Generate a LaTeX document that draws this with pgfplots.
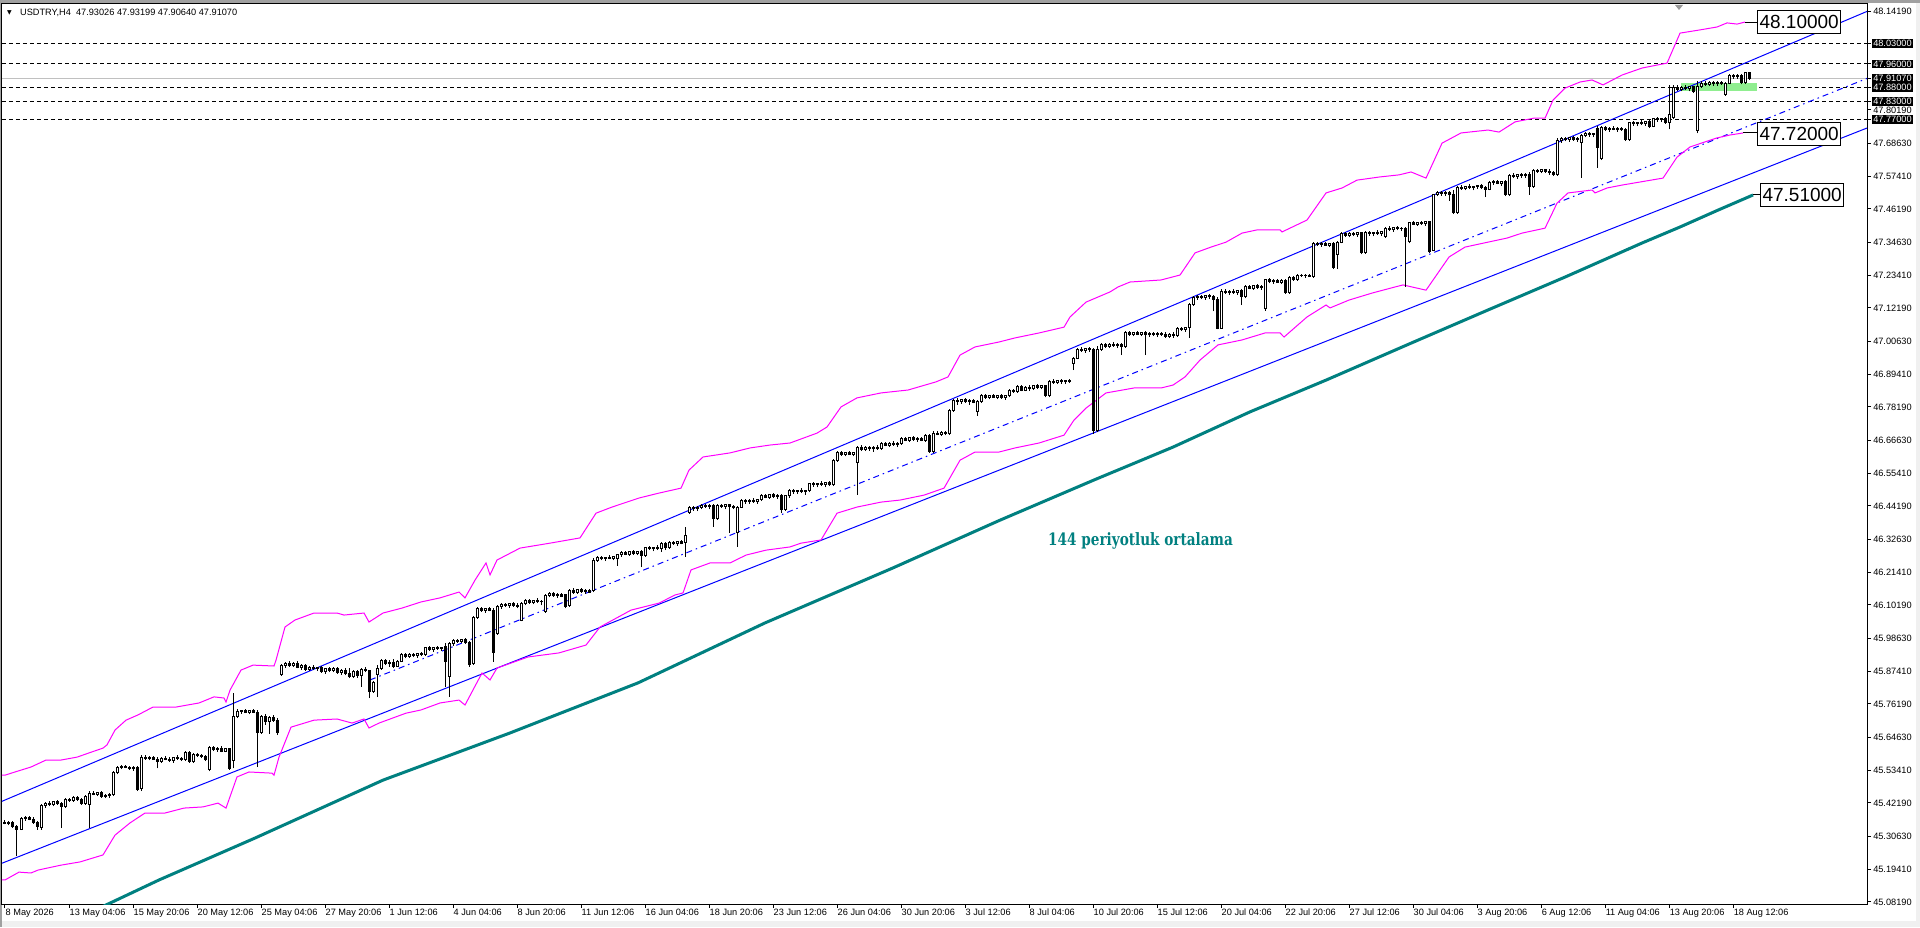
\documentclass[border=0pt]{standalone}
\usepackage{fontspec}
\setmainfont{Liberation Sans}
\newfontfamily\slab{DejaVu Serif}
\newfontfamily\djv{DejaVu Sans}
\usepackage{pgfplots}
\usepackage{pgfplotstable}
\pgfplotsset{compat=1.18}
\definecolor{mtblue}{RGB}{0,0,255}
\definecolor{mtmag}{RGB}{255,0,255}
\definecolor{mtteal}{RGB}{0,128,128}
\definecolor{mtgreen}{RGB}{144,238,144}
\definecolor{mtgray}{RGB}{192,192,192}
\definecolor{mtframe}{RGB}{160,160,160}
\definecolor{mtpanel}{RGB}{240,240,240}

\pgfplotstableread{
i o h l c
0 45.355 45.362 45.348 45.352
1 45.352 45.358 45.345 45.356
2 45.356 45.360 45.335 45.340
3 45.340 45.345 45.240 45.330
4 45.330 45.372 45.328 45.368
5 45.368 45.378 45.360 45.372
6 45.372 45.376 45.362 45.366
7 45.366 45.372 45.350 45.354
8 45.354 45.360 45.330 45.340
9 45.336 45.418 45.330 45.412
10 45.412 45.425 45.405 45.420
11 45.420 45.428 45.410 45.415
12 45.415 45.430 45.410 45.426
13 45.426 45.432 45.415 45.420
14 45.420 45.425 45.335 45.410
15 45.410 45.440 45.405 45.435
16 45.435 45.440 45.425 45.430
17 45.430 45.445 45.425 45.440
18 45.440 45.445 45.430 45.435
19 45.435 45.440 45.415 45.420
20 45.420 45.450 45.415 45.445
21 45.415 45.462 45.335 45.455
22 45.455 45.462 45.448 45.452
23 45.452 45.460 45.445 45.456
24 45.456 45.462 45.440 45.444
25 45.444 45.452 45.438 45.448
26 45.448 45.456 45.440 45.450
27 45.450 45.530 45.445 45.525
28 45.525 45.550 45.520 45.545
29 45.545 45.552 45.538 45.548
30 45.548 45.552 45.540 45.544
31 45.544 45.550 45.535 45.540
32 45.540 45.548 45.532 45.545
33 45.545 45.550 45.462 45.468
34 45.470 45.585 45.462 45.578
35 45.578 45.585 45.570 45.575
36 45.575 45.582 45.568 45.578
37 45.578 45.584 45.570 45.572
38 45.572 45.580 45.540 45.565
39 45.565 45.578 45.560 45.575
40 45.575 45.582 45.568 45.570
41 45.570 45.578 45.562 45.566
42 45.566 45.580 45.560 45.578
43 45.578 45.585 45.570 45.574
44 45.574 45.580 45.565 45.570
45 45.570 45.600 45.565 45.595
46 45.595 45.600 45.560 45.565
47 45.565 45.592 45.560 45.588
48 45.588 45.594 45.580 45.584
49 45.584 45.590 45.575 45.580
50 45.580 45.585 45.565 45.570
51 45.535 45.618 45.530 45.612
52 45.612 45.618 45.600 45.605
53 45.605 45.615 45.598 45.610
54 45.610 45.616 45.595 45.600
55 45.600 45.612 45.595 45.608
56 45.608 45.612 45.535 45.540
57 45.569 45.800 45.540 45.717
58 45.717 45.745 45.712 45.735
59 45.735 45.742 45.728 45.738
60 45.738 45.745 45.730 45.734
61 45.734 45.742 45.726 45.738
62 45.738 45.744 45.730 45.732
63 45.732 45.740 45.545 45.665
64 45.665 45.725 45.660 45.720
65 45.720 45.728 45.690 45.700
66 45.700 45.720 45.660 45.715
67 45.715 45.722 45.700 45.705
68 45.705 45.715 45.655 45.665
69 45.862 45.900 45.858 45.895
70 45.895 45.905 45.885 45.900
71 45.900 45.908 45.890 45.895
72 45.895 45.905 45.888 45.902
73 45.902 45.908 45.884 45.888
74 45.888 45.898 45.880 45.894
75 45.894 45.900 45.875 45.880
76 45.880 45.892 45.876 45.888
77 45.888 45.895 45.878 45.882
78 45.882 45.890 45.874 45.886
79 45.886 45.892 45.868 45.872
80 45.872 45.886 45.866 45.884
81 45.884 45.890 45.870 45.876
82 45.876 45.888 45.870 45.885
83 45.885 45.890 45.865 45.870
84 45.870 45.882 45.862 45.878
85 45.878 45.884 45.860 45.865
86 45.865 45.885 45.850 45.855
87 45.855 45.878 45.850 45.874
88 45.874 45.880 45.850 45.858
89 45.858 45.885 45.820 45.880
90 45.880 45.888 45.870 45.875
91 45.875 45.880 45.782 45.805
92 45.805 45.840 45.800 45.835
93 45.862 45.895 45.785 45.885
94 45.885 45.915 45.880 45.910
95 45.910 45.916 45.895 45.900
96 45.900 45.912 45.890 45.905
97 45.905 45.915 45.885 45.892
98 45.892 45.912 45.888 45.908
99 45.908 45.935 45.905 45.930
100 45.930 45.936 45.918 45.925
101 45.925 45.935 45.920 45.932
102 45.932 45.938 45.922 45.928
103 45.928 45.936 45.920 45.934
104 45.934 45.940 45.925 45.930
105 45.930 45.958 45.926 45.954
106 45.954 45.960 45.945 45.950
107 45.950 45.958 45.940 45.956
108 45.956 45.962 45.948 45.952
109 45.952 45.958 45.944 45.955
110 45.958 45.972 45.820 45.906
111 45.856 45.976 45.786 45.970
112 45.970 45.985 45.962 45.980
113 45.980 45.986 45.972 45.976
114 45.976 45.984 45.970 45.982
115 45.982 45.988 45.968 45.972
116 45.972 45.978 45.890 45.896
117 45.900 46.065 45.895 46.058
118 46.058 46.094 46.055 46.088
119 46.088 46.094 46.078 46.082
120 46.082 46.092 46.075 46.088
121 46.088 46.094 46.080 46.084
122 46.084 46.090 45.906 45.937
123 46.005 46.100 46.000 46.095
124 46.095 46.110 46.088 46.104
125 46.104 46.110 46.095 46.100
126 46.100 46.108 46.092 46.106
127 46.106 46.112 46.096 46.100
128 46.100 46.108 46.090 46.096
129 46.050 46.112 46.045 46.108
130 46.108 46.122 46.100 46.116
131 46.116 46.122 46.105 46.110
132 46.110 46.120 46.104 46.118
133 46.118 46.124 46.108 46.112
134 46.112 46.120 46.100 46.115
135 46.080 46.140 46.075 46.135
136 46.135 46.145 46.128 46.140
137 46.140 46.146 46.130 46.134
138 46.134 46.142 46.126 46.138
139 46.138 46.144 46.128 46.132
140 46.136 46.140 46.090 46.098
141 46.100 46.158 46.095 46.152
142 46.152 46.160 46.140 46.146
143 46.146 46.156 46.140 46.154
144 46.154 46.160 46.142 46.148
145 46.148 46.156 46.140 46.150
146 46.150 46.157 46.142 46.146
147 46.150 46.262 46.145 46.256
148 46.256 46.270 46.250 46.264
149 46.264 46.270 46.255 46.260
150 46.260 46.268 46.252 46.266
151 46.266 46.272 46.258 46.262
152 46.262 46.270 46.255 46.267
153 46.262 46.278 46.236 46.274
154 46.274 46.286 46.268 46.282
155 46.282 46.288 46.272 46.276
156 46.276 46.286 46.270 46.284
157 46.284 46.290 46.275 46.280
158 46.280 46.288 46.272 46.285
159 46.285 46.290 46.232 46.270
160 46.270 46.302 46.268 46.298
161 46.298 46.304 46.290 46.294
162 46.294 46.302 46.286 46.300
163 46.300 46.306 46.290 46.296
164 46.296 46.318 46.285 46.312
165 46.312 46.318 46.290 46.298
166 46.298 46.320 46.295 46.316
167 46.316 46.322 46.308 46.312
168 46.312 46.320 46.305 46.318
169 46.318 46.324 46.310 46.314
170 46.315 46.370 46.268 46.342
171 46.420 46.442 46.415 46.436
172 46.436 46.442 46.426 46.432
173 46.432 46.440 46.424 46.438
174 46.438 46.448 46.430 46.444
175 46.444 46.450 46.434 46.440
176 46.440 46.448 46.430 46.442
177 46.442 46.448 46.370 46.400
178 46.400 46.448 46.395 46.444
179 46.444 46.450 46.436 46.440
180 46.440 46.448 46.430 46.446
181 46.446 46.450 46.350 46.440
182 46.440 46.446 46.430 46.436
183 46.350 46.442 46.301 46.438
184 46.438 46.465 46.435 46.460
185 46.460 46.466 46.450 46.456
186 46.456 46.464 46.448 46.462
187 46.462 46.468 46.452 46.458
188 46.458 46.466 46.450 46.464
189 46.464 46.482 46.458 46.478
190 46.478 46.484 46.468 46.472
191 46.472 46.482 46.466 46.480
192 46.480 46.486 46.470 46.474
193 46.474 46.482 46.466 46.478
194 46.478 46.484 46.417 46.430
195 46.430 46.480 46.425 46.476
196 46.476 46.500 46.470 46.494
197 46.494 46.500 46.484 46.490
198 46.490 46.498 46.482 46.496
199 46.496 46.502 46.486 46.490
200 46.490 46.498 46.480 46.494
201 46.494 46.522 46.488 46.518
202 46.518 46.524 46.508 46.514
203 46.514 46.522 46.506 46.520
204 46.520 46.526 46.510 46.516
205 46.516 46.524 46.506 46.522
206 46.522 46.526 46.510 46.514
207 46.515 46.602 46.510 46.598
208 46.598 46.630 46.594 46.624
209 46.624 46.630 46.614 46.620
210 46.620 46.628 46.612 46.626
211 46.626 46.632 46.616 46.618
212 46.618 46.628 46.612 46.624
213 46.590 46.648 46.480 46.644
214 46.644 46.650 46.630 46.636
215 46.636 46.646 46.630 46.642
216 46.642 46.648 46.632 46.638
217 46.638 46.646 46.628 46.644
218 46.644 46.650 46.634 46.640
219 46.640 46.660 46.634 46.656
220 46.656 46.662 46.646 46.650
221 46.650 46.660 46.644 46.658
222 46.658 46.664 46.648 46.652
223 46.652 46.660 46.644 46.657
224 46.657 46.678 46.652 46.674
225 46.674 46.680 46.664 46.668
226 46.668 46.678 46.662 46.676
227 46.676 46.682 46.666 46.670
228 46.670 46.678 46.662 46.675
229 46.675 46.680 46.664 46.668
230 46.668 46.688 46.662 46.684
231 46.684 46.690 46.624 46.628
232 46.628 46.698 46.625 46.692
233 46.692 46.700 46.684 46.688
234 46.688 46.698 46.682 46.694
235 46.694 46.700 46.684 46.690
236 46.690 46.775 46.685 46.770
237 46.770 46.810 46.765 46.805
238 46.805 46.812 46.790 46.800
239 46.800 46.810 46.792 46.806
240 46.806 46.812 46.796 46.800
241 46.800 46.808 46.790 46.804
242 46.804 46.810 46.794 46.798
243 46.765 46.805 46.752 46.800
244 46.800 46.826 46.795 46.820
245 46.820 46.826 46.810 46.815
246 46.815 46.824 46.808 46.822
247 46.822 46.828 46.812 46.816
248 46.816 46.824 46.808 46.820
249 46.820 46.826 46.810 46.814
250 46.814 46.822 46.806 46.820
251 46.820 46.842 46.815 46.838
252 46.838 46.844 46.830 46.834
253 46.834 46.858 46.830 46.852
254 46.852 46.858 46.835 46.840
255 46.840 46.855 46.835 46.850
256 46.850 46.856 46.838 46.845
257 46.845 46.858 46.840 46.855
258 46.855 46.862 46.845 46.850
259 46.850 46.858 46.842 46.854
260 46.854 46.858 46.815 46.820
261 46.820 46.876 46.815 46.870
262 46.870 46.878 46.862 46.866
263 46.866 46.874 46.860 46.872
264 46.872 46.878 46.862 46.868
265 46.868 46.876 46.860 46.873
266 46.873 46.878 46.864 46.868
267 46.930 46.952 46.908 46.948
268 46.948 46.986 46.945 46.980
269 46.980 46.988 46.970 46.976
270 46.976 46.986 46.968 46.982
271 46.982 46.988 46.972 46.978
272 46.978 46.984 46.690 46.700
273 46.700 46.990 46.695 46.980
274 46.980 47.002 46.975 46.996
275 46.996 47.002 46.986 46.990
276 46.990 47.000 46.984 46.998
277 46.998 47.004 46.988 46.992
278 46.992 47.000 46.984 46.996
279 46.996 47.000 46.960 46.990
280 46.990 47.042 46.986 47.036
281 47.036 47.044 47.026 47.030
282 47.030 47.040 47.024 47.038
283 47.038 47.044 47.028 47.032
284 47.032 47.040 47.024 47.036
285 47.036 47.042 46.960 47.030
286 47.030 47.040 47.022 47.034
287 47.034 47.040 47.025 47.030
288 47.030 47.038 47.022 47.035
289 47.035 47.040 47.026 47.030
290 47.030 47.038 47.020 47.024
291 47.024 47.036 47.018 47.032
292 47.032 47.038 47.020 47.026
293 47.026 47.058 47.022 47.052
294 47.052 47.058 47.042 47.048
295 47.048 47.056 47.040 47.054
296 47.056 47.140 47.018 47.135
297 47.135 47.162 47.130 47.158
298 47.158 47.168 47.150 47.162
299 47.162 47.168 47.152 47.158
300 47.158 47.166 47.150 47.164
301 47.164 47.170 47.154 47.160
302 47.160 47.166 47.110 47.150
303 47.150 47.158 47.048 47.052
304 47.052 47.186 47.050 47.180
305 47.180 47.186 47.170 47.175
306 47.175 47.184 47.168 47.180
307 47.180 47.186 47.170 47.176
308 47.176 47.184 47.168 47.182
309 47.182 47.186 47.132 47.160
310 47.160 47.202 47.155 47.196
311 47.196 47.202 47.186 47.190
312 47.190 47.200 47.184 47.198
313 47.198 47.204 47.188 47.192
314 47.192 47.200 47.184 47.196
315 47.120 47.222 47.112 47.218
316 47.218 47.224 47.206 47.212
317 47.212 47.220 47.205 47.216
318 47.216 47.222 47.208 47.210
319 47.210 47.220 47.204 47.216
320 47.216 47.220 47.170 47.174
321 47.174 47.230 47.170 47.226
322 47.226 47.232 47.215 47.220
323 47.220 47.238 47.216 47.234
324 47.234 47.238 47.228 47.232
325 47.232 47.238 47.226 47.235
326 47.235 47.240 47.228 47.230
327 47.230 47.350 47.226 47.345
328 47.345 47.350 47.334 47.340
329 47.340 47.348 47.332 47.344
330 47.344 47.350 47.336 47.338
331 47.338 47.346 47.330 47.342
332 47.342 47.348 47.255 47.260
333 47.304 47.352 47.256 47.348
334 47.348 47.382 47.344 47.376
335 47.376 47.384 47.366 47.372
336 47.372 47.382 47.364 47.378
337 47.378 47.384 47.368 47.374
338 47.374 47.382 47.366 47.380
339 47.380 47.384 47.306 47.312
340 47.312 47.386 47.308 47.380
341 47.380 47.386 47.370 47.376
342 47.376 47.384 47.368 47.382
343 47.382 47.388 47.372 47.378
344 47.378 47.386 47.370 47.384
345 47.368 47.400 47.362 47.396
346 47.396 47.402 47.386 47.392
347 47.392 47.400 47.384 47.398
348 47.398 47.404 47.388 47.394
349 47.394 47.400 47.386 47.396
350 47.396 47.400 47.194 47.366
351 47.350 47.418 47.344 47.414
352 47.414 47.420 47.406 47.410
353 47.410 47.418 47.404 47.416
354 47.416 47.422 47.408 47.412
355 47.412 47.420 47.404 47.418
356 47.418 47.422 47.310 47.316
357 47.320 47.515 47.316 47.510
358 47.510 47.524 47.505 47.518
359 47.518 47.524 47.508 47.514
360 47.514 47.522 47.506 47.520
361 47.520 47.524 47.490 47.510
362 47.510 47.528 47.444 47.450
363 47.450 47.540 47.446 47.536
364 47.536 47.544 47.528 47.532
365 47.532 47.542 47.526 47.540
366 47.540 47.546 47.530 47.534
367 47.534 47.542 47.526 47.538
368 47.538 47.544 47.530 47.542
369 47.542 47.546 47.530 47.535
370 47.535 47.540 47.503 47.530
371 47.530 47.558 47.526 47.552
372 47.552 47.560 47.544 47.556
373 47.556 47.562 47.546 47.550
374 47.550 47.558 47.542 47.555
375 47.555 47.560 47.506 47.510
376 47.510 47.582 47.506 47.578
377 47.578 47.584 47.568 47.574
378 47.574 47.582 47.566 47.580
379 47.580 47.586 47.570 47.576
380 47.576 47.584 47.568 47.582
381 47.582 47.590 47.510 47.538
382 47.538 47.598 47.534 47.594
383 47.594 47.600 47.586 47.590
384 47.590 47.598 47.584 47.596
385 47.596 47.600 47.586 47.592
386 47.592 47.598 47.580 47.586
387 47.586 47.592 47.575 47.580
388 47.580 47.704 47.576 47.698
389 47.698 47.708 47.690 47.704
390 47.704 47.710 47.694 47.700
391 47.700 47.708 47.692 47.706
392 47.706 47.712 47.696 47.702
393 47.702 47.708 47.692 47.705
394 47.690 47.720 47.570 47.714
395 47.714 47.726 47.708 47.720
396 47.720 47.726 47.710 47.716
397 47.716 47.724 47.708 47.722
398 47.740 47.746 47.603 47.672
399 47.635 47.748 47.630 47.742
400 47.742 47.746 47.730 47.736
401 47.736 47.744 47.728 47.740
402 47.740 47.746 47.732 47.735
403 47.735 47.742 47.728 47.738
404 47.738 47.744 47.730 47.734
405 47.734 47.740 47.695 47.700
406 47.700 47.762 47.696 47.758
407 47.758 47.764 47.748 47.754
408 47.754 47.762 47.746 47.760
409 47.760 47.766 47.750 47.756
410 47.756 47.764 47.748 47.762
411 47.762 47.766 47.740 47.745
412 47.745 47.776 47.742 47.772
413 47.772 47.778 47.762 47.768
414 47.768 47.776 47.760 47.774
415 47.774 47.778 47.755 47.760
416 47.760 47.888 47.735 47.785
417 47.775 47.888 47.770 47.880
418 47.880 47.888 47.866 47.872
419 47.872 47.884 47.866 47.880
420 47.880 47.888 47.870 47.876
421 47.876 47.884 47.866 47.882
422 47.882 47.886 47.860 47.866
423 47.730 47.900 47.722 47.884
424 47.884 47.900 47.878 47.894
425 47.894 47.902 47.886 47.890
426 47.890 47.900 47.884 47.896
427 47.896 47.902 47.886 47.892
428 47.892 47.900 47.884 47.898
429 47.898 47.902 47.888 47.892
430 47.855 47.898 47.850 47.894
431 47.894 47.925 47.890 47.920
432 47.920 47.926 47.910 47.916
433 47.916 47.924 47.910 47.920
434 47.920 47.925 47.890 47.895
435 47.895 47.934 47.892 47.930
436 47.93026 47.93199 47.90640 47.91070
}\candles

% One mark per candle; origin sits at (i, close).
% 291.12 pt per price unit = 900pt / (48.166 - 45.0745)
\pgfdeclareplotmark{candle}{%
  \pgfmathsetmacro\cyo{\dyo}%
  \pgfmathsetmacro\cyh{\dyh}%
  \pgfmathsetmacro\cyl{\dyl}%
  \pgfsetlinewidth{1pt}%
  \pgfsetstrokecolor{black}%
  \pgfpathmoveto{\pgfpoint{0pt}{\cyl pt}}%
  \pgfpathlineto{\pgfpoint{0pt}{\cyh pt}}%
  \pgfusepathqstroke
  \ifdim\cyo pt>0pt
    \pgfsetfillcolor{black}%
  \else
    \pgfsetfillcolor{white}%
  \fi
  \pgfpathrectangle{\pgfpoint{-1pt}{0pt}}{\pgfpoint{2pt}{\cyo pt}}%
  \pgfusepathqfillstroke
}

\begin{document}
\begin{tikzpicture}
\useasboundingbox (0pt,0pt) rectangle (1920pt,927pt);
\fill[white] (0pt,0pt) rectangle (1920pt,927pt);
\fill[mtpanel] (0pt,0pt) rectangle (1920pt,6pt);
\fill[mtpanel] (1916pt,0pt) rectangle (1920pt,927pt);
\fill[mtframe] (0pt,924pt) rectangle (1920pt,927pt);
\fill[mtframe] (0pt,0pt) rectangle (1.5pt,927pt);
\begin{axis}[
  at={(2pt,23pt)}, anchor=south west,
  scale only axis, width=1865pt, height=900pt,
  xmin=-0.75, xmax=465.5, ymin=45.0745, ymax=48.166,
  axis line style={black, line width=1pt},
  tick style={black, line width=1pt},
  tick align=outside, major tick length=4pt,
  xtick pos=left, ytick pos=right, yticklabel pos=right,
  xtick={0,16,...,432},
  xticklabels={8 May 2026, 13 May 04:06, 15 May 20:06, 20 May 12:06, 25 May 04:06, 27 May 20:06, 1 Jun 12:06, 4 Jun 04:06, 8 Jun 20:06, 11 Jun 12:06, 16 Jun 04:06, 18 Jun 20:06, 23 Jun 12:06, 26 Jun 04:06, 30 Jun 20:06, 3 Jul 12:06, 8 Jul 04:06, 10 Jul 20:06, 15 Jul 12:06, 20 Jul 04:06, 22 Jul 20:06, 27 Jul 12:06, 30 Jul 04:06, 3 Aug 20:06, 6 Aug 12:06, 11 Aug 04:06, 13 Aug 20:06, 18 Aug 12:06},
  ytick={45.0819,45.1941,45.3063,45.4219,45.5341,45.6463,45.7619,45.8741,45.9863,46.1019,46.2141,46.3263,46.4419,46.5541,46.6663,46.7819,46.8941,47.0063,47.1219,47.2341,47.3463,47.4619,47.5741,47.6863,47.8019,48.1419},
  yticklabels={45.08190,45.19410,45.30630,45.42190,45.53410,45.64630,45.76190,45.87410,45.98630,46.10190,46.21410,46.32630,46.44190,46.55410,46.66630,46.78190,46.89410,47.00630,47.12190,47.23410,47.34630,47.46190,47.57410,47.68630,47.80190,48.14190},
  extra y ticks={48.03,47.96,47.9107,47.88,47.83,47.77},
  extra y tick labels={48.03000,47.96000,47.91070,47.88000,47.83000,47.77000},
  extra y tick style={yticklabel style={fill=black, text=white, inner xsep=1.5pt, inner ysep=1.2pt, xshift=-1.5pt}},
  xticklabel style={font=\fontsize{9.2}{10}\selectfont, anchor=north west, inner sep=0pt, xshift=0.5pt, yshift=-1pt},
  yticklabel style={font=\fontsize{9.2}{10}\selectfont, anchor=west, inner sep=0pt, xshift=2pt},
  clip=true,
]
% horizontal levels
\addplot[black, line width=1pt, dash pattern=on 4pt off 3pt] coordinates {(-0.75,48.03) (465.5,48.03)};
\addplot[black, line width=1pt, dash pattern=on 4pt off 3pt] coordinates {(-0.75,47.96) (465.5,47.96)};
\addplot[black, line width=1pt, dash pattern=on 4pt off 3pt] coordinates {(-0.75,47.88) (465.5,47.88)};
\addplot[black, line width=1pt, dash pattern=on 4pt off 3pt] coordinates {(-0.75,47.83) (465.5,47.83)};
\addplot[black, line width=1pt, dash pattern=on 4pt off 3pt] coordinates {(-0.75,47.77) (465.5,47.77)};
\addplot[mtgray, line width=1pt] coordinates {(-0.75,47.9107) (465.5,47.9107)};
% green zone
\addplot[fill=mtgreen, draw=none] coordinates {(419,47.867) (438,47.867) (438,47.894) (419,47.894)} -- cycle;
% channel lines
\addplot[mtblue, line width=1pt] coordinates {(-0.75,45.4273) (465.5,48.1406)};
\addplot[mtblue, line width=1pt] coordinates {(-0.75,45.2146) (465.5,47.740)};
\addplot[mtblue, line width=1pt, dash pattern=on 6pt off 4pt on 1.5pt off 4pt] coordinates {(91.25,45.844) (465.5,47.9104)};
% upper envelope
\addplot[mtmag, line width=1pt] coordinates {
(-0.75,45.517) (0,45.517) (2.5,45.528) (6.5,45.545) (10.25,45.569) (14,45.569) (18,45.579) (21.75,45.597) (24.5,45.610) (25.5,45.621) (27.5,45.672) (30.25,45.706) (33.25,45.724) (37,45.751) (42.75,45.751) (48.5,45.765) (52.25,45.786) (54.75,45.782) (55.25,45.768) (56.25,45.809) (59,45.878) (62,45.895) (67.25,45.892) (67.75,45.912) (70,46.026) (72.5,46.050) (77.25,46.074) (83,46.074) (84.75,46.067) (89.75,46.074) (91,46.043) (94.5,46.074) (99.25,46.091) (104,46.112) (108.75,46.126) (113.5,46.146) (115,46.126) (117.5,46.187) (120.25,46.246) (121.25,46.205) (123,46.256) (128.75,46.297) (136.25,46.314) (143.75,46.332) (147.75,46.417) (151.75,46.438) (158.5,46.469) (163.5,46.486) (169,46.503) (171,46.565) (174.5,46.610) (181.25,46.624) (186.25,46.641) (191.25,46.651) (196.25,46.658) (203,46.692) (205.5,46.713) (209,46.782) (213,46.813) (219,46.830) (225.75,46.840) (232.75,46.868) (235.75,46.885) (238.75,46.960) (242.5,46.988) (248.5,47.005) (252.5,47.019) (258.5,47.036) (264.75,47.056) (266.25,47.091) (270.25,47.142) (276.25,47.177) (278.25,47.194) (281.25,47.211) (289,47.218) (293.75,47.235) (297.5,47.311) (301.5,47.331) (305.25,47.348) (309.25,47.379) (313,47.390) (318.75,47.390) (319.25,47.383) (325.5,47.424) (330.25,47.517) (334.25,47.534) (338,47.561) (343.75,47.572) (348.5,47.579) (351.5,47.589) (355.25,47.568) (359.25,47.688) (364,47.723) (370.75,47.733) (373.5,47.726) (377.5,47.761) (382.25,47.774) (385,47.774) (387,47.836) (390,47.877) (393.75,47.898) (396.75,47.905) (399.5,47.888) (404.25,47.922) (409.25,47.946) (415.5,47.963) (418.75,48.066) (423.75,48.077) (428,48.087) (430.5,48.101) (433,48.097) (435,48.104)};
% lower envelope
\addplot[mtmag, line width=1pt] coordinates {
(-0.75,45.157) (0,45.157) (3.5,45.184) (6.5,45.181) (8.25,45.191) (14,45.208) (18.75,45.219) (24.5,45.243) (27.5,45.311) (31.25,45.353) (35,45.387) (40,45.387) (44.75,45.404) (49.5,45.408) (53.25,45.421) (55.25,45.404) (58,45.511) (61,45.528) (66.75,45.524) (67.25,45.517) (68.5,45.579) (71.5,45.682) (77.25,45.706) (83,45.710) (86.75,45.696) (89.75,45.710) (91,45.679) (93.5,45.696) (100.25,45.730) (104,45.741) (108.75,45.765) (113.5,45.775) (115,45.758) (119.25,45.868) (121.25,45.844) (123,45.885) (130.75,45.923) (138.5,45.937) (145.25,45.964) (148.75,46.026) (156.5,46.084) (163.5,46.108) (167.5,46.136) (169.5,46.143) (171.5,46.222) (176.25,46.246) (181.25,46.246) (185.25,46.273) (190.25,46.290) (196.25,46.301) (199,46.314) (204,46.325) (208,46.417) (213,46.438) (219,46.455) (223.75,46.462) (229.75,46.479) (234.75,46.503) (238.75,46.599) (242.5,46.627) (248.5,46.627) (252.5,46.641) (258.5,46.658) (264.75,46.685) (267.25,46.737) (270.25,46.778) (275.25,46.830) (282.25,46.847) (289,46.847) (292,46.857) (295,46.885) (298.75,46.943) (303.25,46.995) (309.25,47.012) (315,47.036) (318.75,47.036) (319.75,47.022) (325.5,47.091) (330.25,47.132) (331.25,47.122) (336,47.149) (341.75,47.173) (347.5,47.194) (349.5,47.201) (355.25,47.183) (361,47.297) (365,47.331) (370.75,47.348) (375.5,47.362) (379.25,47.379) (385,47.396) (388,47.482) (390.75,47.517) (396.75,47.527) (397.5,47.517) (400.5,47.534) (404.25,47.544) (414.5,47.568) (418,47.640) (421.25,47.675) (428,47.706) (431.25,47.716) (434.5,47.723)};
% 144-period moving average
\addplot[mtteal, line width=3pt] coordinates {
(24,45.063) (38.5,45.157) (62.5,45.301) (94.5,45.500) (126.25,45.662) (158.25,45.834) (190,46.040) (222,46.229) (248.75,46.393) (272.25,46.531) (292,46.644) (311.25,46.765) (330.25,46.874) (351.5,47.001) (370.75,47.115) (390,47.228) (409.25,47.345) (418.75,47.400) (428.25,47.458) (437,47.510)};
% candles
\addplot[only marks, mark=candle,
  visualization depends on={(\thisrow{o}-\thisrow{c})*291.12 \as \dyo},
  visualization depends on={(\thisrow{h}-\thisrow{c})*291.12 \as \dyh},
  visualization depends on={(\thisrow{l}-\thisrow{c})*291.12 \as \dyl},
] table[x=i, y=c] {\candles};
% labels
\draw[black, line width=1pt] (axis cs:435,48.104) -- (axis cs:438,48.104);
\draw[black, line width=1pt] (axis cs:434.5,47.723) -- (axis cs:438,47.723);
\draw[black, line width=1pt] (axis cs:437,47.510) -- (axis cs:438.75,47.510);
\node[draw=black, fill=white, line width=1pt, anchor=west, inner xsep=2pt, inner ysep=0pt, minimum height=23pt, font=\fontsize{19}{19}\selectfont] at (axis cs:438,48.1058) {48.10000};
\node[draw=black, fill=white, line width=1pt, anchor=west, inner xsep=2pt, inner ysep=0pt, minimum height=23pt, font=\fontsize{19}{19}\selectfont] at (axis cs:438,47.721) {47.72000};
\node[draw=black, fill=white, line width=1pt, anchor=west, inner xsep=2pt, inner ysep=0pt, minimum height=23pt, font=\fontsize{19}{19}\selectfont] at (axis cs:438.75,47.5116) {47.51000};
\node[text=mtteal, anchor=base west, inner sep=0pt] at (axis cs:260.75,46.3076) {\scalebox{0.8}[1]{\slab\bfseries\fontsize{17}{17}\selectfont 144 periyotluk ortalama}};
\end{axis}
\node[anchor=west, inner sep=0pt, font=\djv\fontsize{6}{6}\selectfont] at (7pt,914pt) {▼};
\node[anchor=west, inner sep=0pt, font=\fontsize{9.2}{10}\selectfont] at (20pt,914pt) {USDTRY,H4\ \ 47.93026 47.93199 47.90640 47.91070};
\fill[mtgray!80!black] (1675pt,922pt) -- (1683pt,922pt) -- (1679pt,917pt) -- cycle;
\end{tikzpicture}
\end{document}
